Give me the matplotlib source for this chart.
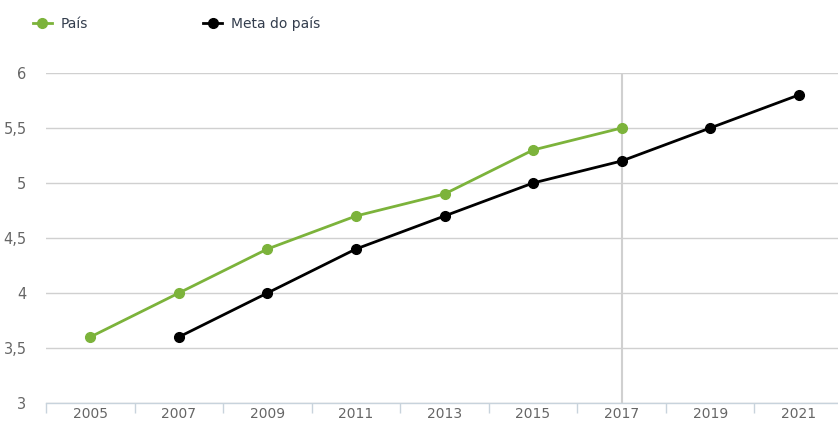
import matplotlib.pyplot as plt
from matplotlib.lines import Line2D

anos = ['2005', '2007', '2009', '2011', '2013', '2015', '2017', '2019', '2021']
pais = [3.6, 4.0, 4.4, 4.7, 4.9, 5.3, 5.5]
meta = [3.6, 4.0, 4.4, 4.7, 5.0, 5.2, 5.5, 5.8]
yticks = [3, 3.5, 4, 4.5, 5, 5.5, 6]

verde = '#7cb33b'
cinza = '#666666'

fig = plt.figure(figsize=(8.38, 4.22), dpi=100)
W, H = 838, 422
left, right = 46, 843
top, bottom = 73, 403
ax = fig.add_axes([left / W, 1 - bottom / H, (right - left) / W, (bottom - top) / H])

x_pais = list(range(len(pais)))
x_meta = list(range(1, 1 + len(meta)))

ax.axvline(6, color='#d0d0d0', lw=1.5, zorder=1)
ax.plot(x_pais, pais, color=verde, lw=2, marker='o', ms=7, zorder=3)
ax.plot(x_meta, meta, color='black', lw=2, marker='o', ms=7, zorder=3)

ax.set_xlim(-0.5, len(anos) - 0.5)
ax.set_ylim(3, 6)
ax.set_yticks(yticks)
ax.set_yticklabels([str(v).replace('.', ',').replace(',0', '') for v in yticks])
ax.grid(axis='y', color='#d0d0d0', lw=1)
ax.set_axisbelow(True)

ax.set_xticks(range(len(anos)))
ax.set_xticklabels(anos)
ax.set_xticks([i - 0.5 for i in range(len(anos) + 1)], minor=True)
ax.tick_params(axis='x', which='major', length=0, pad=3, labelsize=10, labelcolor=cinza)
ax.tick_params(axis='x', which='minor', length=7, color='#c8d3dc', width=1)
ax.tick_params(axis='y', length=0, pad=14, labelsize=10.5, labelcolor=cinza)

for s in ['top', 'right', 'left']:
    ax.spines[s].set_visible(False)
ax.spines['bottom'].set_color('#c8d3dc')
ax.spines['bottom'].set_linewidth(1)

handles = [Line2D([], [], color=verde, lw=2, marker='o', ms=7),
           Line2D([], [], color='black', lw=2, marker='o', ms=7)]
fig.legend(handles, ['País', 'Meta do país'], loc='upper left', bbox_to_anchor=(20 / W, 1 - 4 / H),
           ncol=2, frameon=False, fontsize=10, labelcolor='#333d4d', handlelength=1.4,
           columnspacing=8.3, handletextpad=0.6)

fig.savefig('out.png', dpi=100)
